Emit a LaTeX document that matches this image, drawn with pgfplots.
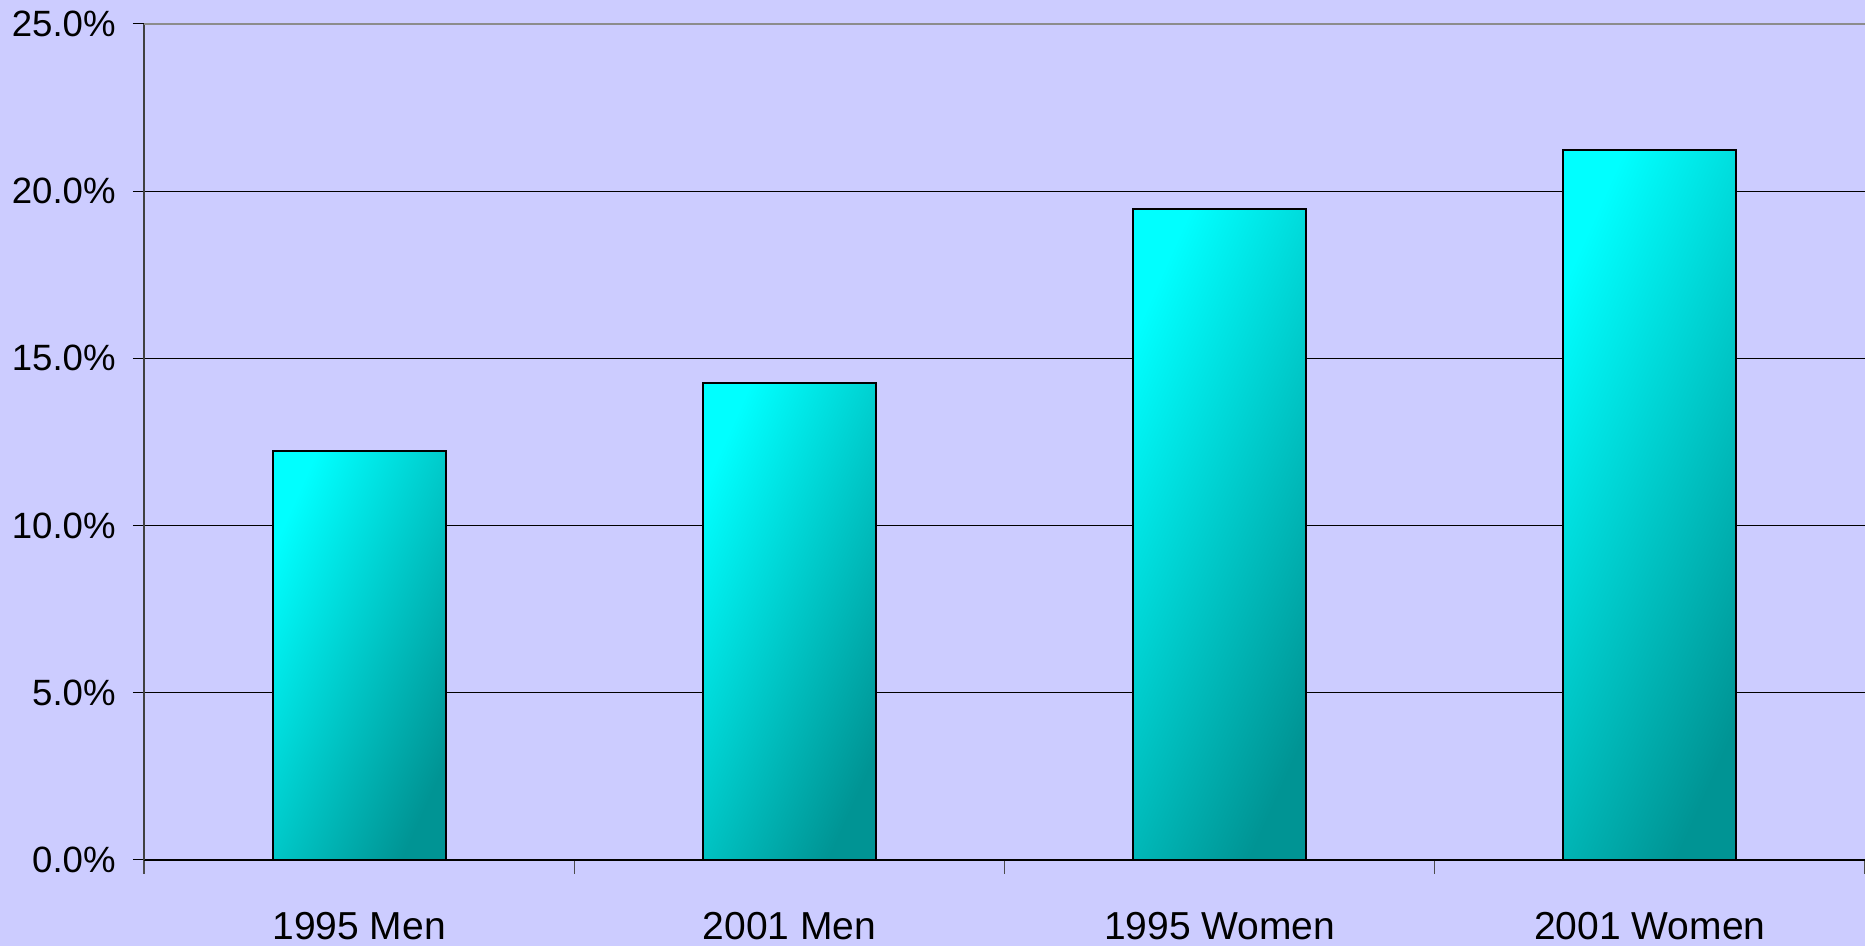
\documentclass[border=0pt]{standalone}
\usepackage{fontspec}
\setmainfont{Liberation Sans}
\usepackage{pgfplots}
\pgfplotsset{compat=1.18}
\definecolor{bg}{RGB}{204,204,255}
\definecolor{barlight}{RGB}{0,255,255}
\definecolor{bardark}{RGB}{0,148,148}
\begin{document}
\begin{tikzpicture}
\fill[bg] (0,0) rectangle (932.5pt,473pt);
\path[use as bounding box] (0,0) rectangle (932.5pt,473pt);
\begin{axis}[
  at={(72pt,43pt)}, anchor=south west,
  scale only axis, width=860.5pt, height=418pt,
  xmin=0, xmax=4, ymin=0, ymax=25,
  separate axis lines,
  axis x line*=bottom, axis y line*=left,
  x axis line style={black,-,line width=0.6pt},
  y axis line style={black!75,-,line width=1pt},
  xtick={0.5,1.5,2.5,3.5},
  xticklabels={1995 Men,2001 Men,1995 Women,2001 Women},
  minor xtick={0,1,2,3,4},
  major x tick style={draw=none},
  minor x tick style={black!70,line width=0.6pt},
  minor tick length=7pt,
  tick align=outside,
  ytick={0,5,10,15,20},
  extra y ticks={25},
  extra y tick style={grid style={black!45,line width=0.8pt}},
  major tick length=5.5pt,
  y tick style={black,line width=0.5pt},
  ymajorgrids,
  grid style={black,line width=0.5pt},
  yticklabel={\pgfmathprintnumber[fixed,fixed zerofill,precision=1]{\tick}\%},
  /pgf/number format/assume math mode=true,
  yticklabel style={font=\fontsize{18.3}{20}\selectfont, anchor=east, inner sep=0pt, xshift=-8.5pt},
  xticklabel style={font=\fontsize{19.5}{22}\selectfont, anchor=base, inner sep=0pt, yshift=-34.5pt},
  clip=false,
]
\addplot[ybar, bar shift=0pt, bar width=86.5pt, draw=black, line width=1pt, top color=barlight, bottom color=bardark, shading angle=66] coordinates {(0.5,12.23)};
\addplot[ybar, bar shift=0pt, bar width=86.5pt, draw=black, line width=1pt, top color=barlight, bottom color=bardark, shading angle=66] coordinates {(1.5,14.27)};
\addplot[ybar, bar shift=0pt, bar width=86.5pt, draw=black, line width=1pt, top color=barlight, bottom color=bardark, shading angle=66] coordinates {(2.5,19.48)};
\addplot[ybar, bar shift=0pt, bar width=86.5pt, draw=black, line width=1pt, top color=barlight, bottom color=bardark, shading angle=66] coordinates {(3.5,21.23)};
\end{axis}
\end{tikzpicture}
\end{document}
